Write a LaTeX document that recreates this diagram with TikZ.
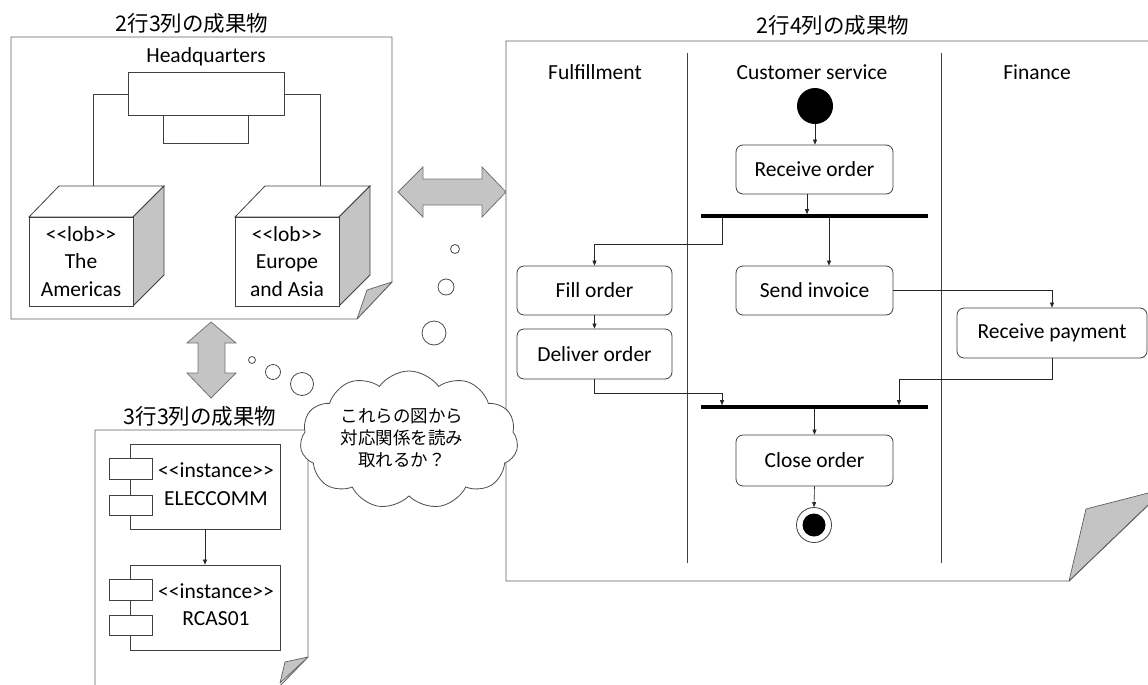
\documentclass[tikz,border=0pt]{standalone}
\usepackage{fontspec}
\setmainfont{Carlito}[Ligatures=TeXOff]
\newfontfamily\jpfont{Noto Sans CJK JP}
\usetikzlibrary{arrows.meta,shapes.symbols,calc}
\definecolor{foldgray}{HTML}{C4C4C4}
\definecolor{framegray}{HTML}{606060}
\definecolor{linegray}{HTML}{404040}
\begin{document}
\begin{tikzpicture}[x=1pt,y=-1pt,
  txt/.style={font=\fontsize{21.5}{27.5}\selectfont, align=center, inner sep=0},
  title/.style={font=\jpfont\fontsize{21.5}{26}\selectfont, inner sep=0},
  frame/.style={draw=framegray, line width=0.9pt, fill=white, line join=round},
  fold/.style={draw=framegray, line width=0.7pt, fill=foldgray, line join=round},
  plain/.style={draw=linegray, line width=0.8pt},
  act/.style={draw=linegray, line width=0.8pt, rounded corners=7pt, fill=white, txt},
  bar/.style={fill=black, inner sep=0, minimum height=3.2pt, minimum width=227pt},
  arr/.style={draw=black!85, line width=0.6pt, -{Triangle[length=5pt,width=4pt]}},
  conn/.style={draw=linegray, line width=0.8pt},
  bigarrow/.style={draw=black!55, line width=0.8pt, fill=foldgray, line join=miter},
  bubble/.style={draw=black!70, line width=0.8pt, fill=white},
  comp/.style={draw=linegray, line width=0.8pt, fill=white},
]
\useasboundingbox (0,0) rectangle (1148,685);
\begin{scope}
\clip (0,0) rectangle (1148,685);

% ===== Top-left document =====
\node[title] (t1) at (192,23) {2行3列の成果物};
\draw[frame] (11,37) -- (392,37) -- (392,282) -- (357,319) -- (11,319) -- cycle;
\draw[fold] (357,319) -- (367,290) -- (392,282) -- cycle;
\node[txt] (hqlabel) at (206,57) {Headquarters};
\node[draw=linegray, line width=0.8pt, minimum width=156pt, minimum height=43pt, inner sep=0] (hq) at (206,93.5) {};
\node[draw=linegray, line width=0.8pt, minimum width=85pt, minimum height=28pt, inner sep=0, anchor=north] (hq2) at (205.5,115) {};
% cubes
\draw[plain, fill=white] (29,217) -- (59,186) -- (164,186) -- (133,217) -- cycle;
\draw[plain, fill=foldgray] (133,217) -- (164,186) -- (164,275) -- (133,306) -- cycle;
\node[draw=linegray, line width=0.8pt, minimum width=104pt, minimum height=89pt, inner sep=0, fill=white] (cubeA) at (81,261.5) {};
\node[txt] at (cubeA) {<<lob>>\\The\\Americas};
\draw[plain, fill=white] (235,217) -- (265,186) -- (370,186) -- (339,217) -- cycle;
\draw[plain, fill=foldgray] (339,217) -- (370,186) -- (370,275) -- (339,306) -- cycle;
\node[draw=linegray, line width=0.8pt, minimum width=104pt, minimum height=89pt, inner sep=0, fill=white] (cubeB) at (287,261.5) {};
\node[txt] at (cubeB) {<<lob>>\\Europe\\and Asia};
\coordinate (hqL) at (93,94);
\coordinate (hqR) at (320,94);
\draw[conn] (hq.west |- hqL) -- (hqL) -- (hqL |- 0,186);
\draw[conn] (hq.east |- hqR) -- (hqR) -- (hqR |- 0,186);

% ===== vertical double arrow =====
\draw[bigarrow] (211,322) -- (236,343) -- (225,343) -- (225,373) -- (236,373) -- (211,398)
  -- (187,373) -- (198,373) -- (198,343) -- (187,343) -- cycle;

% ===== horizontal double arrow =====
\draw[bigarrow] (398,192) -- (423,167) -- (423,179) -- (482,179) -- (482,167) -- (506,192)
  -- (482,217) -- (482,205) -- (423,205) -- (423,217) -- cycle;

% ===== Bottom-left document =====
\node[title] (t2) at (200,416) {3行3列の成果物};
\draw[frame] (95,430) -- (308,430) -- (308,657) -- (276,690) -- (95,690) -- cycle;
\draw[fold] (308,657) -- (285,662) -- (280,683) -- cycle;
% component 1
\node[comp, minimum width=150pt, minimum height=85pt, inner sep=0] (c1) at (205,486.5) {};
\node[comp, minimum width=43pt, minimum height=21pt, inner sep=0] (c1a) at (130.5,468.5) {};
\node[comp, minimum width=43pt, minimum height=20pt, inner sep=0] (c1b) at (130.5,505) {};
\node[txt] at (216,484) {<<instance>>\\ELECCOMM};
% component 2
\node[comp, minimum width=150pt, minimum height=85pt, inner sep=0] (c2) at (205,607.5) {};
\node[comp, minimum width=43pt, minimum height=21pt, inner sep=0] (c2a) at (130.5,589.5) {};
\node[comp, minimum width=43pt, minimum height=20pt, inner sep=0] (c2b) at (130.5,625) {};
\node[txt] at (216,604.5) {<<instance>>\\RCAS01};
\draw[arr] (c1.south) -- (c2.north);

% ===== Right document =====
\node[title] (t3) at (833,25) {2行4列の成果物};
\draw[frame] (506,41) -- (1160,41) -- (1160,490) -- (1069,581) -- (506,581) -- cycle;
\draw[fold] (1069,581) -- (1086,509) -- (1160,490) -- (1160,494) -- cycle;
\draw[draw=framegray, line width=0.7pt] (1069,581) -- (1148,505);
\draw[plain] (687,53) -- (687,563);
\draw[plain] (941,53) -- (941,563);
\node[txt] (l1) at (595,72) {Fulfillment};
\node[txt] (l2) at (812,72) {Customer service};
\node[txt] (l3) at (1037,72) {Finance};

\node[circle, fill=black, minimum size=36pt, inner sep=0] (start) at (815,106) {};
\node[act, minimum width=157pt, minimum height=49pt] (ro) at (814.5,169.5) {Receive order};
\node[bar] (fork) at (814.5,216) {};
\node[act, minimum width=155pt, minimum height=49pt] (fo) at (594.5,290.5) {Fill order};
\node[act, minimum width=157pt, minimum height=49pt] (si) at (814.5,290.5) {Send invoice};
\node[act, minimum width=190pt, minimum height=50pt] (rp) at (1052,333) {Receive payment};
\node[act, minimum width=155pt, minimum height=50pt] (do) at (594.5,354) {Deliver order};
\node[bar] (join) at (814.5,407) {};
\node[act, minimum width=157pt, minimum height=51pt] (co) at (814.5,460.5) {Close order};
\node[circle, draw=linegray, line width=0.8pt, fill=white, minimum size=35pt, inner sep=0] (end) at (814,525) {};
\node[circle, fill=black, minimum size=23pt, inner sep=0] (endin) at (end) {};

\coordinate (roOut) at (807,194);
\coordinate (fL) at (722,244);
\coordinate (fR) at (829,244);
\coordinate (jL) at (722,393);
\coordinate (jR) at (899,379);

\draw[arr] (start.south) -- (start.south |- ro.north);
\draw[arr] (roOut |- ro.south) -- (roOut |- fork.north);
\draw[arr] (fL |- fork.south) -- (fL) -| (fo.north);
\draw[arr] (fR |- fork.south) -- (fR |- si.north);
\draw[arr] (si.east) -| (rp.north);
\draw[arr] (fo.south) -- (do.north);
\draw[arr] (do.south) |- (jL) -- (jL |- join.north);
\draw[arr] (rp.south) |- (jR) -- (jR |- join.north);
\draw[arr] (join.south -| co.north) -- (co.north);
\draw[arr] (co.south) -- (end.north);

% ===== thought bubbles =====
\node[bubble, circle, minimum size=7pt, inner sep=0] (b1) at (252,360) {};
\node[bubble, circle, minimum size=15pt, inner sep=0] (b2) at (273,372) {};
\node[bubble, circle, minimum size=23pt, inner sep=0] (b3) at (302,384) {};
\node[bubble, circle, minimum size=9pt, inner sep=0] (b4) at (455,249) {};
\node[bubble, circle, minimum size=16pt, inner sep=0] (b5) at (446,287) {};
\node[bubble, circle, minimum size=24pt, inner sep=0] (b6) at (434,333) {};
\node[cloud, cloud puffs=11, cloud puff arc=110, aspect=1.6, draw=black!70, line width=0.8pt, fill=white,
  minimum width=218pt, minimum height=138pt, inner sep=0] (cl) at (409,440) {};
\node[font=\jpfont\fontsize{17.5}{22}\selectfont, align=center, inner sep=0] (cltext) at (402,438)
  {これらの図から\\対応関係を読み\\取れるか？};
\end{scope}
\end{tikzpicture}
\end{document}
